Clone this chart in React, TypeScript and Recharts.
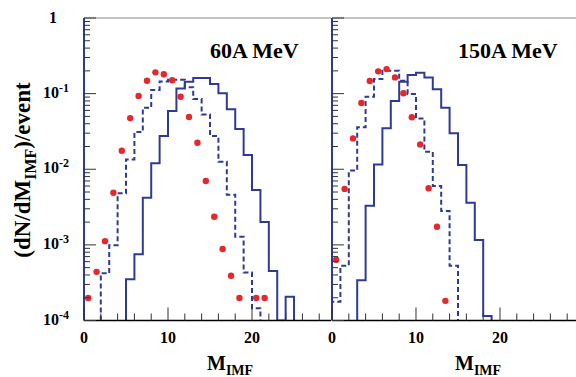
import React from "react";
import { ComposedChart, Line, Scatter, XAxis, YAxis, ReferenceLine } from "recharts";

const BLUE = "#2f3a96";
const RED = "#e8262b";
const FONT = "'Liberation Serif', 'Times New Roman', serif";
const FLOOR = 1e-4; // bottom of the log axis, used where a bin is empty

// 60A MeV panel: histograms start at their first filled bin, width 1
const solid60Start = 5;
const solid60 = [3.5e-4, 7.5e-4, 4.2e-3, 0.012, 0.0275, 0.059, 0.117, 0.144, 0.161, 0.161, 0.134, 0.101, 0.062, 0.034, 0.0154, 0.0053, 0.002, 4.5e-4, 0, 2.06e-4];
const dashed60Start = 2;
const dashed60 = [4.2e-4, 9.9e-4, 4.8e-3, 0.0135, 0.031, 0.065, 0.112, 0.145, 0.152, 0.152, 0.121, 0.085, 0.053, 0.0275, 0.0126, 0.0046, 0.00128, 4.3e-4, 1.45e-4];
const dots60X = [0.5, 1.5, 2.5, 3.5, 4.5, 5.5, 6.5, 7.5, 8.5, 9.5, 10.5, 11.5, 12.5, 13.5, 14.5, 15.5, 16.5, 17.5, 18.5, 20.5, 21.5];
const dots60Y = [1.98e-4, 4.4e-4, 1.12e-3, 4.9e-3, 0.0176, 0.0475, 0.093, 0.148, 0.191, 0.18, 0.15, 0.091, 0.049, 0.0224, 0.007, 0.00235, 8.8e-4, 3.9e-4, 1.98e-4, 1.98e-4, 1.98e-4];

// 150A MeV panel
const solid150Start = 3;
const solid150 = [3.4e-4, 3.3e-3, 0.0116, 0.0348, 0.08, 0.144, 0.176, 0.189, 0.163, 0.114, 0.065, 0.03, 0.0114, 3.6e-3, 1.16e-3, 1.15e-4];
const dashed150Start = 0;
const dashed150 = [1.77e-4, 5.3e-4, 9.6e-3, 0.0358, 0.091, 0.156, 0.201, 0.201, 0.148, 0.099, 0.047, 0.017, 0.006, 0.0028, 5.3e-4];
const dots150X = [0.5, 1.5, 2.5, 3.5, 4.5, 5.5, 6.5, 7.5, 8.5, 9.5, 10.5, 11.5, 12.5, 13.5];
const dots150Y = [6.35e-4, 5.5e-3, 0.0256, 0.075, 0.147, 0.197, 0.211, 0.164, 0.101, 0.0486, 0.0213, 5.6e-3, 1.74e-3, 1.82e-4];

const xTicks = [0, 2, 4, 6, 8, 10, 12, 14, 16, 18, 20, 22, 24, 26, 28];
const xLabels = [0, 10, 20];
const yDecades = [1e-4, 1e-3, 1e-2, 1e-1, 1];
const yTicks = yDecades.flatMap((d) => (d === 1 ? [1] : [1, 2, 3, 4, 5, 6, 7, 8, 9].map((k) => k * d)));

// turn bin contents into points for a stepAfter line (rises from and drops to the floor)
const toSteps = (start: number, values: number[]) => {
  const pts = [{ x: start, y: FLOOR }];
  values.forEach((v, i) => pts.push({ x: start + i, y: v > 0 ? v : FLOOR }));
  const end = start + values.length;
  pts.push({ x: end, y: values[values.length - 1] || FLOOR });
  pts.push({ x: end, y: FLOOR });
  return pts;
};

const toDots = (xs: number[], ys: number[]) => xs.map((x, i) => ({ x, y: ys[i] }));

const XTick = (props: any) => {
  const { x, y, payload } = props;
  const major = xLabels.includes(payload.value);
  return (
    <g>
      <line x1={x} x2={x} y1={y} y2={y - (major ? 13 : 7)} stroke="#333" strokeWidth={1} />
      {major && (
        <text x={x} y={y + 22.5} textAnchor="middle" fontFamily={FONT} fontWeight="bold" fontSize={16} fill="#000">
          {payload.value}
        </text>
      )}
    </g>
  );
};

const YTick = (props: any) => {
  const { x, y, payload, showLabel } = props;
  const lg = Math.log10(payload.value);
  const exp = Math.round(lg);
  const major = Math.abs(lg - exp) < 1e-6;
  let label = null;
  if (showLabel && major) {
    label =
      exp === 0 ? (
        <text x={x - 31} y={y + 5} textAnchor="middle" fontFamily={FONT} fontWeight="bold" fontSize={16} fill="#000">
          1
        </text>
      ) : (
        <text x={x - 41} y={y + 4} fontFamily={FONT} fontWeight="bold" fontSize={16} fill="#000">
          10
          <tspan dy={-6} fontSize={12}>
            {`-${-exp}`}
          </tspan>
        </text>
      );
  }
  return (
    <g>
      <line x1={x} x2={x + (major ? 12 : 6)} y1={y} y2={y} stroke="#333" strokeWidth={1} />
      {label}
    </g>
  );
};

const XTitle = (props: any) => {
  const { viewBox } = props;
  return (
    <text x={viewBox.x + 123} y={370} fontFamily={FONT} fontWeight="bold" fontSize={20} fill="#000">
      M
      <tspan dy={5} fontSize={14}>
        IMF
      </tspan>
    </text>
  );
};

const YTitle = () => (
  <text x={30} y={170} transform="rotate(-90, 30, 170)" textAnchor="middle" fontFamily={FONT} fontWeight="bold" fontSize={23} fill="#000">
    (dN/dM
    <tspan dy={6} fontSize={16}>
      IMF
    </tspan>
    <tspan dy={-6}>)/event</tspan>
  </text>
);

const Dot = (props: any) => <circle cx={props.cx} cy={props.cy} r={3.2} fill={RED} />;

interface PanelProps {
  title: string;
  solid: { x: number; y: number }[];
  dashed: { x: number; y: number }[];
  dots: { x: number; y: number }[];
  chartWidth: number;
  axisWidth: number;
  xMax: number;
  yLabels: boolean;
}

const Panel = ({ title, solid, dashed, dots, chartWidth, axisWidth, xMax, yLabels }: PanelProps) => (
  <ComposedChart width={chartWidth} height={377} margin={{ top: 18, right: 0, bottom: 0, left: 0 }}>
    <XAxis
      type="number"
      dataKey="x"
      domain={[0, xMax]}
      ticks={xTicks}
      interval={0}
      height={56.5}
      tickSize={0}
      tickMargin={0}
      tickLine={false}
      axisLine={{ stroke: "#000", strokeWidth: 1.5 }}
      tick={XTick}
      label={XTitle}
      allowDataOverflow
    />
    <YAxis
      type="number"
      dataKey="y"
      scale="log"
      domain={[1e-4, 1]}
      ticks={yTicks}
      interval={0}
      width={axisWidth}
      tickSize={0}
      tickMargin={0}
      tickLine={false}
      axisLine={{ stroke: BLUE, strokeWidth: 2 }}
      tick={(p: any) => <YTick {...p} showLabel={yLabels} />}
      label={yLabels ? YTitle : undefined}
      allowDataOverflow
    />
    <ReferenceLine
      y={1}
      stroke="#888"
      strokeWidth={1}
      label={(p: any) => (
        <text x={p.viewBox.x + 126} y={58} fontFamily={FONT} fontWeight="bold" fontSize={22} fill="#000">
          {title}
        </text>
      )}
    />
    <Line data={solid} dataKey="y" type="stepAfter" stroke={BLUE} strokeWidth={2} dot={false} isAnimationActive={false} />
    <Line
      data={dashed}
      dataKey="y"
      type="stepAfter"
      stroke={BLUE}
      strokeWidth={2}
      strokeDasharray="5 3"
      dot={false}
      isAnimationActive={false}
    />
    <Scatter data={dots} dataKey="y" fill={RED} shape={Dot} isAnimationActive={false} />
  </ComposedChart>
);

export default function App() {
  return (
    <div style={{ position: "absolute", left: 0, top: 0, width: 576, height: 377, background: "#fff", overflow: "hidden" }}>
      <div style={{ position: "absolute", left: 0, top: 0 }}>
        <Panel
          title="60A MeV"
          solid={toSteps(solid60Start, solid60)}
          dashed={toSteps(dashed60Start, dashed60)}
          dots={toDots(dots60X, dots60Y)}
          chartWidth={331}
          axisWidth={84}
          xMax={29.4}
          yLabels
        />
      </div>
      <div style={{ position: "absolute", left: 300, top: 0 }}>
        <Panel
          title="150A MeV"
          solid={toSteps(solid150Start, solid150)}
          dashed={toSteps(dashed150Start, dashed150)}
          dots={toDots(dots150X, dots150Y)}
          chartWidth={276}
          axisWidth={32}
          xMax={29.05}
          yLabels={false}
        />
      </div>
    </div>
  );
}
